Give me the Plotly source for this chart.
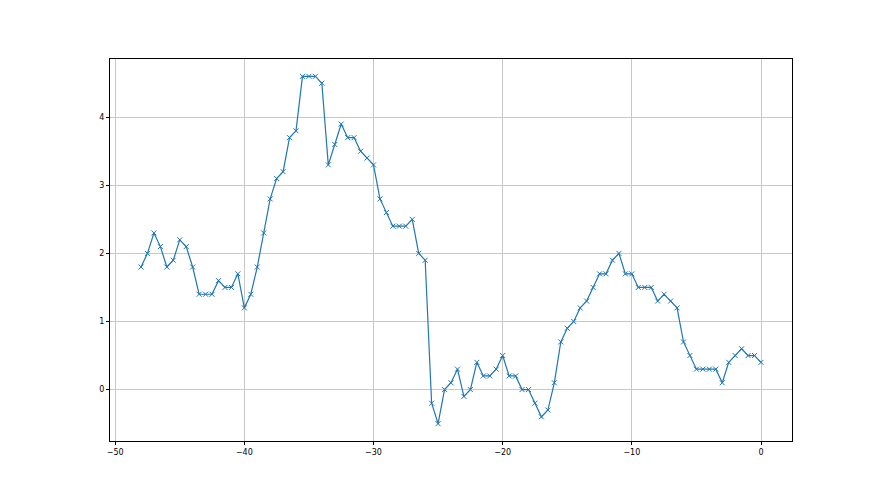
import plotly.graph_objects as go

x_values = [-48 + 0.5 * i for i in range(97)]
y_values = [
    1.8, 2.0, 2.3, 2.1, 1.8, 1.9, 2.2, 2.1, 1.8, 1.4,
    1.4, 1.4, 1.6, 1.5, 1.5, 1.7, 1.2, 1.4, 1.8, 2.3,
    2.8, 3.1, 3.2, 3.7, 3.8, 4.6, 4.6, 4.6, 4.5, 3.3,
    3.6, 3.9, 3.7, 3.7, 3.5, 3.4, 3.3, 2.8, 2.6, 2.4,
    2.4, 2.4, 2.5, 2.0, 1.9, -0.2, -0.5, 0.0, 0.1, 0.3,
    -0.1, 0.0, 0.4, 0.2, 0.2, 0.3, 0.5, 0.2, 0.2, 0.0,
    0.0, -0.2, -0.4, -0.3, 0.1, 0.7, 0.9, 1.0, 1.2, 1.3,
    1.5, 1.7, 1.7, 1.9, 2.0, 1.7, 1.7, 1.5, 1.5, 1.5,
    1.3, 1.4, 1.3, 1.2, 0.7, 0.5, 0.3, 0.3, 0.3, 0.3,
    0.1, 0.4, 0.5, 0.6, 0.5, 0.5, 0.4,
]
x_ticks = [-50, -40, -30, -20, -10, 0]
y_ticks = [0, 1, 2, 3, 4]

color = "#1f77b4"
fig = go.Figure(
    go.Scatter(
        x=x_values,
        y=y_values,
        mode="lines+markers",
        line=dict(color=color, width=1.2),
        marker=dict(symbol="x-thin", size=5, line=dict(color=color, width=1)),
        showlegend=False,
    )
)

axis_common = dict(
    showline=True,
    linecolor="black",
    linewidth=1,
    mirror=True,
    ticks="outside",
    ticklen=3,
    tickwidth=1,
    tickcolor="black",
    showgrid=True,
    gridcolor="#c8c8c8",
    gridwidth=0.8,
    zeroline=False,
    tickfont=dict(family="DejaVu Sans", size=8, color="black"),
)

fig.update_xaxes(range=[-50.4, 2.4], tickvals=x_ticks, **axis_common)
fig.update_yaxes(range=[-0.755, 4.855], tickvals=y_ticks, **axis_common)

fig.update_layout(
    width=872,
    height=487,
    margin=dict(l=102, r=88, t=51, b=54),
    paper_bgcolor="white",
    plot_bgcolor="white",
)

fig.write_html("out.html")
